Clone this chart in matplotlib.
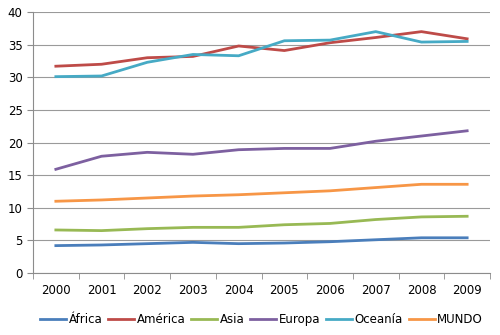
import numpy as np
import matplotlib.pyplot as plt

years = ['2000', '2001', '2002', '2003', '2004', '2005', '2006', '2007', '2008', '2009']
africa = [4.2, 4.3, 4.5, 4.7, 4.5, 4.6, 4.8, 5.1, 5.4, 5.4]
america = [31.7, 32.0, 33.0, 33.2, 34.8, 34.1, 35.3, 36.1, 37.0, 35.9]
asia = [6.6, 6.5, 6.8, 7.0, 7.0, 7.4, 7.6, 8.2, 8.6, 8.7]
europa = [15.9, 17.9, 18.5, 18.2, 18.9, 19.1, 19.1, 20.2, 21.0, 21.8]
oceania = [30.1, 30.2, 32.3, 33.5, 33.3, 35.6, 35.7, 37.0, 35.4, 35.5]
mundo = [11.0, 11.2, 11.5, 11.8, 12.0, 12.3, 12.6, 13.1, 13.6, 13.6]

series = [
    ('África', africa, '#4A7EBB'),
    ('América', america, '#BE4B48'),
    ('Asia', asia, '#98B954'),
    ('Europa', europa, '#7D60A0'),
    ('Oceanía', oceania, '#46AAC5'),
    ('MUNDO', mundo, '#F79646'),
]

fig = plt.figure(figsize=(5, 3.35), dpi=100)
ax = fig.add_axes([0.066, 0.185, 0.914, 0.779])

x = np.arange(len(years))
for name, vals, col in series:
    ax.plot(x, vals, color=col, linewidth=2.0, label=name)

ax.set_xlim(-0.5, len(years) - 0.5)
ax.set_ylim(0, 40)
ax.set_yticks(range(0, 41, 5))
ax.yaxis.grid(True, color='#9a9a9a', linewidth=0.8)
ax.set_axisbelow(True)

ax.set_xticks(x)
ax.set_xticklabels(years)
ax.set_xticks(np.arange(-0.5, len(years), 1), minor=True)
ax.tick_params(axis='x', which='major', length=0, pad=8, labelsize=8.5)
ax.tick_params(axis='x', which='minor', length=4, color='#8c8c8c', direction='out')
ax.tick_params(axis='y', length=4, color='#8c8c8c', labelsize=8.5)

for s in ['top', 'right']:
    ax.spines[s].set_visible(False)
for s in ['left', 'bottom']:
    ax.spines[s].set_color('#8c8c8c')

ax.legend(loc='center', bbox_to_anchor=(0.5, -0.18), ncol=6, frameon=False,
          fontsize=8.5, handlelength=2.2, handletextpad=0.2, columnspacing=0.5)

plt.savefig('out.png')
